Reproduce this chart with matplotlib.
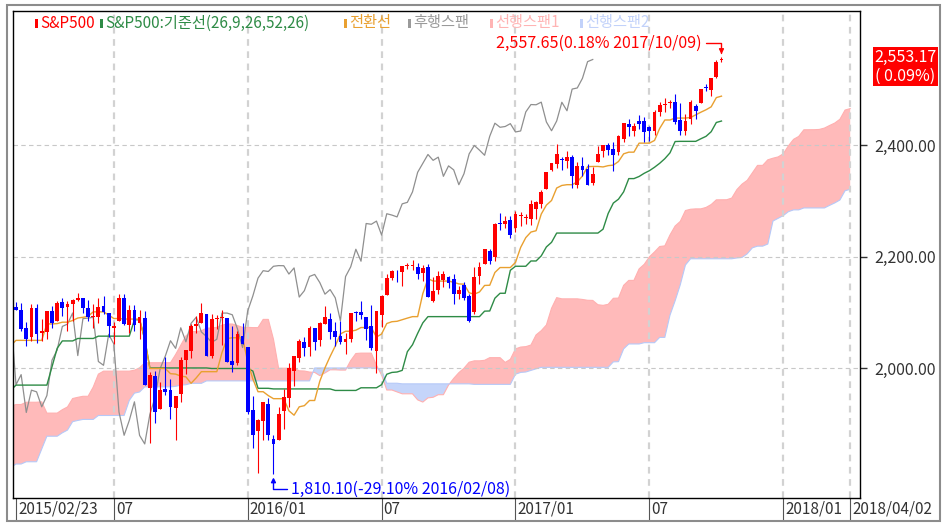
import numpy as np
import pandas as pd
import matplotlib
matplotlib.use('Agg')
import matplotlib.pyplot as plt
from matplotlib.patches import Rectangle

plt.rcParams['font.family'] = ['Noto Sans CJK KR', 'DejaVu Sans']

W, HPX = 951, 525

# weekly S&P500 candles, first week 2015-02-23, last week 2017-10-09
start_week = '2015-02-23'
opens = [2109.8, 2105.2, 2072.3, 2055.4, 2108.0, 2064.1, 2064.9, 2102.9, 2084.1, 2119.3,
         2110.2, 2115.6, 2122.3, 2125.3, 2108.6, 2092.3, 2091.3, 2112.5, 2098.6, 2073.0,
         2085.3, 2126.9, 2078.2, 2104.5, 2081.0, 2089.7, 1965.2, 1986.7, 1927.3, 1963.1,
         1960.8, 1929.2, 1954.3, 2015.7, 2031.7, 2075.1, 2080.8, 2096.6, 2022.1, 2089.4,
         2091.0, 2090.4, 2013.4, 2010.3, 2057.8, 2038.2, 1926.1, 1888.7, 1906.3, 1936.9,
         1873.3, 1871.4, 1924.4, 1947.1, 1996.1, 2019.3, 2047.9, 2037.9, 2073.2, 2050.2,
         2078.8, 2089.4, 2067.2, 2057.6, 2047.2, 2052.2, 2100.1, 2100.8, 2091.8, 2075.6,
         2031.5, 2095.1, 2131.7, 2162.0, 2173.7, 2173.1, 2183.8, 2183.7, 2181.6, 2170.2,
         2181.6, 2120.9, 2141.0, 2158.5, 2164.3, 2160.4, 2133.0, 2148.5, 2129.8, 2100.6,
         2165.6, 2186.4, 2210.2, 2200.2, 2258.8, 2259.2, 2266.2, 2251.6, 2273.6, 2269.1,
         2267.8, 2286.0, 2294.3, 2321.7, 2354.9, 2365.2, 2375.2, 2371.6, 2378.2, 2329.1,
         2362.3, 2357.2, 2332.6, 2370.3, 2388.5, 2399.9, 2393.0, 2387.2, 2411.7, 2437.0,
         2425.9, 2442.6, 2443.3, 2431.7, 2424.5, 2458.3, 2472.0, 2475.1, 2477.1, 2445.3,
         2425.5, 2447.4, 2470.4, 2474.5, 2502.5, 2499.4, 2521.2, 2551.4]
highs = [2119.6, 2117.5, 2083.5, 2114.9, 2114.9, 2088.9, 2102.6, 2111.9, 2120.9, 2125.9,
         2120.9, 2123.9, 2134.7, 2126.2, 2121.9, 2115.0, 2126.6, 2129.9, 2098.6, 2083.0,
         2132.8, 2132.8, 2114.2, 2112.7, 2105.4, 2102.9, 1993.5, 1995.0, 1975.0, 2020.9,
         1980.3, 1951.4, 2020.9, 2033.5, 2079.7, 2094.3, 2116.5, 2096.6, 2097.0, 2095.6,
         2104.3, 2090.4, 2076.7, 2067.4, 2081.6, 2038.2, 1950.3, 1908.9, 1940.2, 1947.2,
         1881.6, 1930.7, 1963.0, 2009.1, 2022.4, 2052.4, 2056.6, 2075.1, 2073.2, 2083.0,
         2111.1, 2099.9, 2083.4, 2084.9, 2064.2, 2099.3, 2103.5, 2120.6, 2091.8, 2113.3,
         2103.5, 2131.7, 2169.1, 2175.6, 2177.1, 2182.9, 2188.5, 2193.8, 2187.9, 2184.9,
         2187.0, 2163.3, 2175.3, 2175.3, 2165.9, 2169.6, 2148.4, 2154.8, 2133.3, 2182.3,
         2189.9, 2213.4, 2214.1, 2259.8, 2277.5, 2273.0, 2273.8, 2282.1, 2279.3, 2276.1,
         2301.0, 2299.0, 2319.2, 2351.3, 2367.8, 2401.0, 2378.8, 2390.0, 2382.4, 2370.4,
         2378.4, 2366.4, 2361.4, 2398.2, 2399.3, 2403.9, 2405.8, 2418.7, 2440.2, 2446.2,
         2440.3, 2453.8, 2450.4, 2434.3, 2463.5, 2477.6, 2484.0, 2480.4, 2490.9, 2474.9,
         2454.8, 2480.4, 2472.9, 2500.2, 2508.9, 2519.4, 2552.5, 2557.65]
lows = [2103.8, 2066.4, 2039.7, 2049.0, 2045.8, 2048.4, 2052.0, 2072.4, 2084.1, 2094.1,
        2067.9, 2085.7, 2120.5, 2099.2, 2085.7, 2072.1, 2081.0, 2097.4, 2056.6, 2044.0,
        2085.3, 2077.4, 2063.5, 2067.9, 2052.1, 1970.9, 1867.0, 1903.1, 1927.3, 1953.0,
        1908.8, 1871.9, 1940.0, 1990.7, 2018.9, 2064.1, 2080.8, 2022.7, 2019.4, 2070.3,
        2042.4, 2011.0, 1993.3, 2005.9, 2043.6, 1918.5, 1857.8, 1812.3, 1872.7, 1872.7,
        1810.1, 1871.4, 1891.0, 1931.8, 1969.3, 2012.3, 2022.5, 2022.1, 2033.8, 2039.7,
        2078.8, 2052.3, 2039.5, 2044.0, 2025.9, 2047.3, 2085.4, 2089.2, 2050.4, 2032.6,
        1991.7, 2074.0, 2131.7, 2159.0, 2154.8, 2147.6, 2177.9, 2175.4, 2160.4, 2157.0,
        2127.8, 2119.1, 2133.0, 2145.0, 2144.9, 2114.7, 2124.4, 2122.0, 2083.8, 2097.6,
        2151.2, 2186.4, 2187.4, 2192.1, 2248.4, 2252.0, 2233.6, 2245.1, 2254.3, 2258.8,
        2257.0, 2267.2, 2288.0, 2321.7, 2352.9, 2358.0, 2354.5, 2358.9, 2322.3, 2322.3,
        2344.5, 2329.0, 2328.3, 2370.3, 2378.5, 2381.7, 2353.0, 2382.0, 2405.7, 2415.7,
        2415.6, 2428.2, 2405.7, 2407.7, 2418.5, 2452.5, 2459.9, 2466.5, 2437.8, 2417.4,
        2417.4, 2437.2, 2446.6, 2474.5, 2496.7, 2488.0, 2520.4, 2547.9]
closes = [2104.5, 2071.3, 2053.4, 2108.1, 2061.0, 2067.0, 2102.1, 2081.2, 2117.7, 2108.3,
          2116.1, 2122.7, 2126.1, 2107.4, 2092.8, 2094.1, 2110.0, 2101.5, 2076.8, 2076.6,
          2126.6, 2079.7, 2103.8, 2077.6, 2091.5, 1970.9, 1988.9, 1921.2, 1961.1, 1958.1,
          1931.3, 1951.4, 2014.9, 2033.1, 2075.2, 2079.4, 2099.2, 2023.0, 2089.2, 2090.1,
          2091.7, 2012.4, 2005.6, 2061.0, 2043.9, 1922.0, 1880.3, 1906.9, 1940.2, 1880.1,
          1864.8, 1917.8, 1948.1, 2000.0, 2022.2, 2049.6, 2035.9, 2072.8, 2047.6, 2080.7,
          2091.6, 2065.3, 2057.1, 2046.6, 2052.3, 2099.1, 2099.1, 2096.1, 2071.2, 2037.4,
          2103.0, 2129.9, 2161.7, 2175.0, 2173.6, 2182.9, 2184.1, 2183.9, 2169.0, 2180.0,
          2127.8, 2139.2, 2164.7, 2168.3, 2153.7, 2133.0, 2141.2, 2126.4, 2085.2, 2164.5,
          2181.9, 2213.4, 2192.0, 2259.5, 2258.1, 2263.8, 2238.8, 2277.0, 2274.6, 2271.3,
          2294.7, 2297.4, 2316.1, 2351.2, 2367.3, 2383.1, 2372.6, 2378.3, 2344.0, 2362.7,
          2355.5, 2329.0, 2348.7, 2384.2, 2399.3, 2390.9, 2381.7, 2415.8, 2439.1, 2431.8,
          2433.2, 2438.3, 2423.4, 2425.2, 2459.3, 2472.5, 2472.1, 2476.8, 2441.3, 2425.6,
          2443.1, 2476.6, 2461.4, 2500.2, 2502.2, 2519.4, 2549.3, 2553.17]

# weekly highs / lows of the 78 weeks before the first candle (feed the ichimoku windows)
pre_highs = [1669.5, 1664.0, 1689.9, 1729.9, 1711.2, 1696.6, 1703.4, 1745.3, 1759.3, 1775.2,
             1774.5, 1798.8, 1804.8, 1813.6, 1808.0, 1811.0, 1823.8, 1844.9, 1849.4, 1843.2,
             1850.8, 1850.8, 1798.8, 1798.8, 1841.7, 1847.5, 1867.9, 1883.6, 1882.4, 1884.0,
             1875.2, 1897.3, 1873.2, 1865.8, 1884.9, 1884.9, 1881.0, 1902.2, 1901.3, 1924.0,
             1950.0, 1955.6, 1963.9, 1968.2, 1985.6, 1983.7, 1985.6, 1991.4, 1984.9, 1942.9,
             1956.9, 1992.0, 2005.0, 2011.2, 2007.7, 2019.3, 2001.0, 1985.2, 1977.4, 1912.0,
             1965.3, 2018.2, 2031.6, 2041.3, 2071.5, 2075.8, 2079.5, 2075.8, 2077.3, 2093.6,
             2093.6, 2064.4, 2056.9, 2064.6, 2057.6, 2072.4, 2097.0, 2101.3]
pre_lows = [1627.5, 1640.6, 1656.0, 1685.0, 1687.1, 1670.4, 1646.5, 1692.0, 1741.8, 1752.5,
            1746.2, 1760.9, 1780.0, 1799.2, 1779.9, 1772.3, 1767.0, 1818.0, 1827.7, 1823.7,
            1815.0, 1790.3, 1770.5, 1737.9, 1791.8, 1822.7, 1825.9, 1834.4, 1839.6, 1850.8,
            1842.1, 1858.0, 1814.4, 1816.3, 1857.2, 1850.6, 1859.8, 1862.4, 1868.1, 1900.4,
            1915.0, 1925.8, 1930.0, 1944.7, 1957.1, 1952.9, 1955.6, 1965.1, 1916.4, 1904.8,
            1928.0, 1956.8, 1990.5, 1990.1, 1980.3, 1978.6, 1964.0, 1926.0, 1906.0, 1820.7,
            1886.8, 1951.4, 2001.0, 2025.9, 2034.5, 2064.0, 2049.6, 2002.3, 1972.6, 2069.0,
            2045.0, 1992.4, 1988.1, 2004.6, 1989.2, 1980.9, 2041.2, 2085.6]

tick_dates = ['2015-02-23', '2015-07-06', '2016-01-04', '2016-07-04', '2017-01-02',
              '2017-07-03', '2018-01-01', '2018-04-02']
tick_labels = ['2015/02/23', '07', '2016/01', '07', '2017/01', '07', '2018/01', '2018/04/02']
y_ticks = [2000, 2200, 2400]
last_change = 0.09

legend_items = ['S&P500', 'S&P500:기준선(26,9,26,52,26)', '전환선', '후행스팬', '선행스팬1', '선행스팬2']
legend_colors = ['#ff0000', '#2e8b46', '#e9a030', '#9a9a9a', '#ffb4b4', '#c2d2fa']
legend_x = [35, 100, 344, 408, 490, 580]

C_UP, C_DN = '#ff0000', '#0000ff'
C_TENKAN, C_KIJUN, C_CHIKOU = '#e9a030', '#2e8b46', '#8f8f8f'
C_SPAN1, C_SPAN2 = '#ffbaba', '#c5d5fa'

# ichimoku (26, 9, 26, 52, 26) -> displacement 25 weeks (current week counted)
n = len(closes)
npre = len(pre_highs)
hi_s = pd.Series(pre_highs + highs)
lo_s = pd.Series(pre_lows + lows)
xs = np.arange(-npre, n)
shift = 25
tenkan = ((hi_s.rolling(9).max() + lo_s.rolling(9).min()) / 2).values
kijun = ((hi_s.rolling(26).max() + lo_s.rolling(26).min()) / 2).values
span1 = (tenkan + kijun) / 2
span2 = ((hi_s.rolling(52).max() + lo_s.rolling(52).min()) / 2).values

weeks = pd.date_range(start_week, periods=n + shift + 2, freq='7D')
t0 = pd.Timestamp(start_week)
tick_idx = [(pd.Timestamp(d) - t0).days // 7 for d in tick_dates]

fig = plt.figure(figsize=(W / 100, HPX / 100), dpi=100)
fig.patch.set_facecolor('white')
ax = fig.add_axes([13 / W, 1 - 498 / HPX, (860 - 13) / W, (498 - 11) / HPX])

# cloud
cx = xs + shift
m = cx >= -2
a, b, cxm = span1[m], span2[m], cx[m]
ax.fill_between(cxm, a, b, where=a >= b, interpolate=True, color=C_SPAN1, lw=0, zorder=1)
ax.fill_between(cxm, a, b, where=a < b, interpolate=True, color=C_SPAN2, lw=0, zorder=1)
ax.plot(cxm, a, color='#ffb0b0', lw=0.8, zorder=1.2)
ax.plot(cxm, b, color='#b6c9f8', lw=0.8, zorder=1.2)

# grid
for y in y_ticks:
    ax.axhline(y, color='#c8c8c8', lw=0.8, ls=(0, (4, 3)), zorder=1.5)
for t in tick_idx[1:]:
    ax.axvline(t, color='#d2d2d2', lw=1.6, ls=(0, (3, 2.5)), zorder=1.5)

# lines
ax.plot(np.arange(n) - shift, closes, color=C_CHIKOU, lw=0.9, zorder=2)
ml = xs >= -1
ax.plot(xs[ml], kijun[ml], color=C_KIJUN, lw=1.0, zorder=2.1)
ax.plot(xs[ml], tenkan[ml], color=C_TENKAN, lw=1.0, zorder=2.2)

# candles
o = np.array(opens)
c = np.array(closes)
xi = np.arange(n)
cols = np.where(c >= o, C_UP, C_DN)
ax.vlines(xi, lows, highs, colors=cols, lw=0.8, zorder=3)
ax.bar(xi, np.maximum(np.abs(c - o), 1.6), bottom=np.minimum(o, c), width=0.74,
       color=cols, lw=0, zorder=3.1)

ax.set_xlim(-0.58, 163.9)
ax.set_ylim(1768, 2640)

# high / low markers
last = closes[-1]
hi_i = int(np.argmax(highs))
lo_i = int(np.argmin(lows))
arrow = dict(arrowstyle='-|>', lw=1, mutation_scale=7, shrinkA=1, shrinkB=2,
             connectionstyle='angle,angleA=0,angleB=90,rad=0')
ax.annotate('{:,.2f}({:.2f}% {})'.format(highs[hi_i], (highs[hi_i] / last - 1) * 100,
                                        weeks[hi_i].strftime('%Y/%m/%d')),
            xy=(hi_i, highs[hi_i]), xytext=(-20, 14), textcoords='offset pixels',
            ha='right', va='center', color=C_UP, fontsize=11.5, zorder=5,
            arrowprops=dict(arrow, color=C_UP))
ax.annotate('{:,.2f}({:.2f}% {})'.format(lows[lo_i], (lows[lo_i] / last - 1) * 100,
                                        weeks[lo_i].strftime('%Y/%m/%d')),
            xy=(lo_i, lows[lo_i]), xytext=(18, -15), textcoords='offset pixels',
            ha='left', va='center', color=C_DN, fontsize=11.5, zorder=5,
            arrowprops=dict(arrow, color=C_DN), annotation_clip=False)

# axes styling
for s in ax.spines.values():
    s.set_color('black')
    s.set_linewidth(1)
ax.yaxis.tick_right()
ax.set_yticks(y_ticks)
ax.set_yticklabels(['{:,.2f}'.format(v) for v in y_ticks])
ax.tick_params(axis='y', length=5, width=1, pad=5, labelsize=11.5,
               labelcolor='#333333', color='#333333')
ax.set_xticks(tick_idx)
ax.set_xticklabels([])
ax.tick_params(axis='x', length=16, width=0.8, color='#555555')
for t, lab in zip(tick_idx, tick_labels):
    ax.annotate(lab, xy=(t, 0), xycoords=('data', 'axes fraction'), xytext=(2, -3),
                textcoords='offset pixels', ha='left', va='top', fontsize=11,
                color='#333333', annotation_clip=False)

# legend row
for lab, col, lx in zip(legend_items, legend_colors, legend_x):
    fig.patches.append(Rectangle((lx / W, 1 - 28 / HPX), 3 / W, 9 / HPX,
                                 transform=fig.transFigure, color=col, lw=0))
    fig.text((lx + 5) / W, 1 - 23 / HPX, lab, color=col, fontsize=11,
             ha='left', va='center')

# current price box
fig.patches.append(Rectangle((873 / W, 1 - 86 / HPX), 65 / W, 39 / HPX,
                             transform=fig.transFigure, color='#ff0000', lw=0))
fig.text(905.5 / W, 1 - 57 / HPX, '{:,.2f}'.format(last), color='white', fontsize=11.5,
         ha='center', va='center')
fig.text(905.5 / W, 1 - 76 / HPX, '( {:.2f}%)'.format(last_change), color='white',
         fontsize=11.5, ha='center', va='center')

# outer frame
fig.patches.append(Rectangle((7 / W, 1 - 521 / HPX), 933 / W, 516 / HPX,
                             transform=fig.transFigure, fill=False,
                             edgecolor='#8c8c8c', lw=1.5))

fig.savefig('out.png', dpi=100)
